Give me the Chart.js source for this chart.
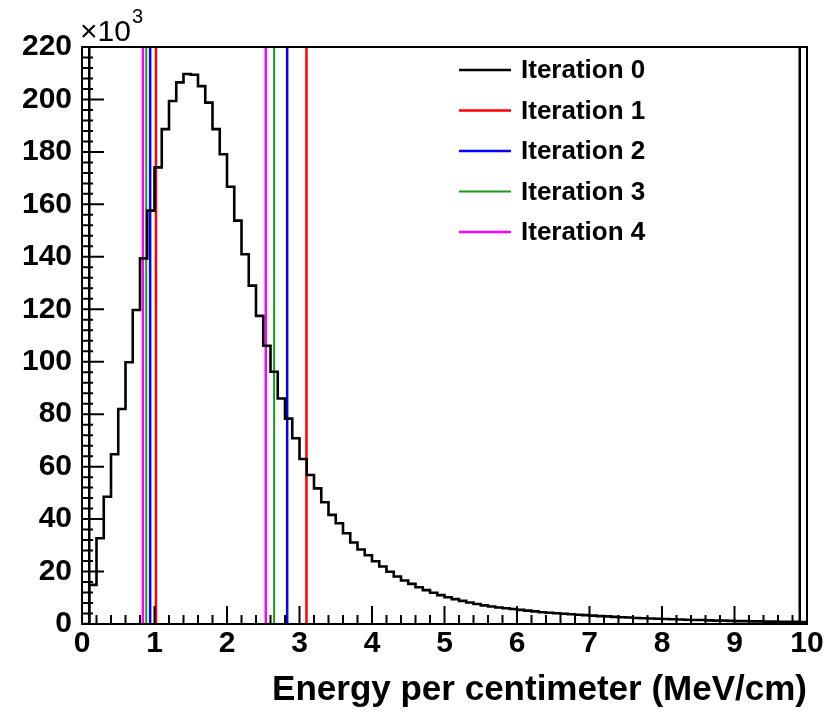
<!DOCTYPE html>
<html lang="en">
<head>
<meta charset="UTF-8">
<title>Energy per centimeter</title>
<script src="https://cdn.jsdelivr.net/npm/chart.js"></script>
<style>
    body { margin: 0; background: #fff; }
    .wrap { width: 839px; height: 712px; position: relative; }
</style>
</head>
<body>
<div class="wrap"><canvas id="dedxChart"></canvas></div>
<script>
// histogram: 100 bins of 0.1 MeV/cm from 0 to 10, entries in units of 10^3
const binWidth = 0.1;
const counts = [
    0, 14.9, 32.7, 48.5, 64.7, 82.0, 99.8, 119.7, 139.4, 157.6,
    174.1, 188.7, 199.4, 206.5, 209.7, 209.4, 205.1, 198.8, 188.7, 179.1,
    166.7, 153.8, 141.0, 129.0, 117.5, 106.1, 96.2, 86.0, 78.3, 70.8,
    62.9, 56.8, 51.7, 46.4, 41.6, 38.4, 34.6, 31.1, 28.4, 26.2,
    23.9, 21.9, 19.9, 18.1, 16.6, 15.3, 14.0, 12.9, 11.9, 11.0,
    10.2, 9.5, 8.8, 8.2, 7.6, 7.1, 6.7, 6.3, 6.0, 5.7,
    5.4, 5.1, 4.8, 4.5, 4.3, 4.1, 3.9, 3.7, 3.5, 3.4,
    3.2, 3.0, 2.9, 2.7, 2.6, 2.5, 2.3, 2.2, 2.1, 2.0,
    1.9, 1.8, 1.7, 1.6, 1.5, 1.5, 1.4, 1.3, 1.3, 1.2,
    1.1, 1.1, 1.0, 1.0, 0.9, 0.9, 0.8, 0.8, 0.8, 0.7
];

// truncation window found at each iteration
const iterLabels = ['Iteration 0', 'Iteration 1', 'Iteration 2', 'Iteration 3', 'Iteration 4'];
const cutLow  = [0.1, 1.02, 0.94, 0.886, 0.84];
const cutHigh = [9.9, 3.096, 2.83, 2.65, 2.535];
const iterColors = ['#000000', '#ff0000', '#0000ff', '#1a9a1a', '#ff00ff'];
const iterWidths = [2.5, 2.5, 2.5, 2, 2.5];

const xMin = 0, xMax = 10, yMin = 0, yMax = 220;
const FONT = "'Liberation Sans', Arial, Helvetica, sans-serif";

const histPoints = counts.map((c, i) => ({ x: i * binWidth, y: c }));
histPoints.push({ x: xMax, y: counts[counts.length - 1] });

const datasets = [{
    label: iterLabels[0],
    data: histPoints,
    stepped: 'before',
    borderColor: '#000',
    borderWidth: 2.6,
    pointRadius: 0,
    fill: false
}];
iterLabels.forEach((lab, i) => {
    datasets.push({
        label: lab,
        data: [
            { x: cutLow[i], y: yMin }, { x: cutLow[i], y: yMax },
            { x: (cutLow[i] + cutHigh[i]) / 2, y: null },
            { x: cutHigh[i], y: yMax }, { x: cutHigh[i], y: yMin }
        ],
        borderColor: iterColors[i],
        borderWidth: iterWidths[i],
        pointRadius: 0,
        spanGaps: false,
        fill: false
    });
});

// ROOT style frame, inward ticks, exponent and legend
const rootDecor = {
    id: 'rootDecor',
    afterDatasetsDraw(chart) {
        const { ctx, chartArea: a, scales: { x, y } } = chart;
        ctx.save();
        ctx.strokeStyle = '#000';
        ctx.lineWidth = 2;
        ctx.strokeRect(a.left, a.top, a.right - a.left, a.bottom - a.top);
        ctx.beginPath();
        for (let v = yMin; v <= yMax; v += 4) {
            const py = y.getPixelForValue(v);
            ctx.moveTo(a.left, py);
            ctx.lineTo(a.left + (v % 20 === 0 ? 22 : 11), py);
        }
        for (let k = 0; k <= 50; k++) {
            const px = x.getPixelForValue(k * 0.2);
            ctx.moveTo(px, a.bottom);
            ctx.lineTo(px, a.bottom - (k % 5 === 0 ? 18 : 9));
        }
        ctx.stroke();

        // x10^3
        ctx.fillStyle = '#000';
        ctx.textBaseline = 'alphabetic';
        ctx.textAlign = 'left';
        ctx.font = '30px ' + FONT;
        ctx.fillText('\u00d710', a.left - 2, a.top - 6);
        const w = ctx.measureText('\u00d710').width;
        ctx.font = '20px ' + FONT;
        ctx.fillText('3', a.left - 1 + w, a.top - 24);

        // legend
        ctx.font = 'bold 26px ' + FONT;
        ctx.textBaseline = 'middle';
        iterLabels.forEach((lab, i) => {
            const ly = 70 + i * 40.5;
            ctx.strokeStyle = iterColors[i];
            ctx.lineWidth = iterWidths[i];
            ctx.beginPath();
            ctx.moveTo(459, ly);
            ctx.lineTo(511, ly);
            ctx.stroke();
            ctx.fillText(lab, 521, ly + 1);
        });
        ctx.restore();
    }
};

new Chart(document.getElementById('dedxChart'), {
    type: 'line',
    data: { datasets: datasets },
    plugins: [rootDecor],
    options: {
        responsive: true,
        maintainAspectRatio: false,
        animation: false,
        layout: { padding: { top: 47, right: 32, left: 0, bottom: 1 } },
        plugins: { legend: { display: false }, tooltip: { enabled: false } },
        scales: {
            x: {
                type: 'linear',
                min: xMin,
                max: xMax,
                grid: { display: false, drawTicks: false },
                border: { display: false },
                afterFit: s => { s.height = 87; },
                ticks: {
                    stepSize: 1,
                    maxRotation: 0,
                    padding: 2,
                    color: '#000',
                    font: { family: FONT, size: 30, weight: 'bold' }
                },
                title: {
                    display: true,
                    text: 'Energy per centimeter (MeV/cm)',
                    align: 'end',
                    color: '#000',
                    padding: 0,
                    font: { family: FONT, size: 35, weight: 'bold' }
                }
            },
            y: {
                min: yMin,
                max: yMax,
                grid: { display: false, drawTicks: false },
                border: { display: false },
                afterFit: s => { s.width = 82; },
                ticks: {
                    stepSize: 20,
                    padding: 10,
                    color: '#000',
                    font: { family: FONT, size: 30, weight: 'bold' }
                }
            }
        }
    }
});
</script>
</body>
</html>
